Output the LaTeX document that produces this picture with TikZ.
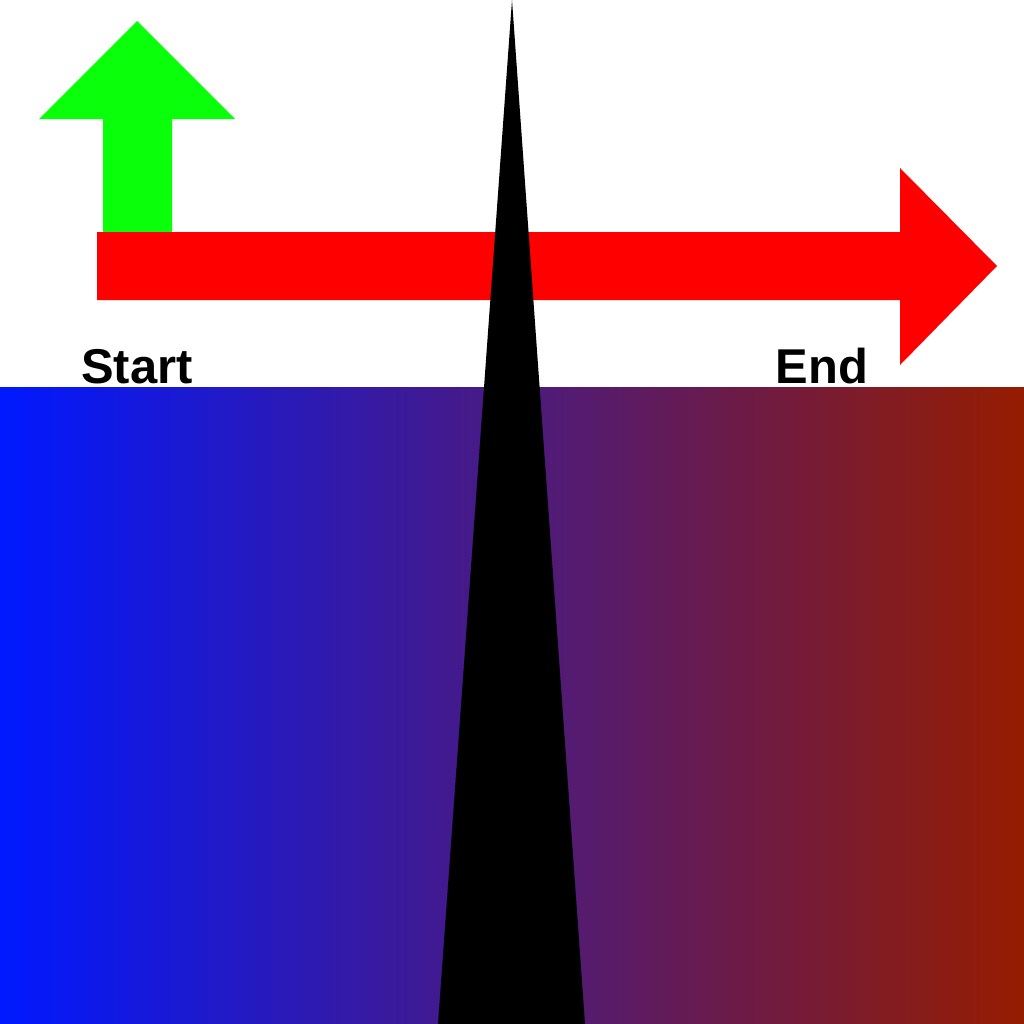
\documentclass[tikz,border=0pt]{standalone}
\usepackage{fontspec}
\setmainfont{Liberation Sans}
\usepackage{xcolor}
\definecolor{panelblue}{RGB}{0,25,255}
\definecolor{panelrust}{RGB}{150,28,0}
\definecolor{upgreen}{RGB}{10,255,10}
\definecolor{flowred}{RGB}{255,0,0}
\tikzset{
  arrowfill/.style={draw=none},
  endlabel/.style={font=\fontsize{13.9}{16}\selectfont\bfseries, inner sep=0pt, anchor=base}
}

\begin{document}
\begin{tikzpicture}[x=0.01cm, y=-0.01cm]

% Canvas
\fill[white] (0,0) rectangle (1024,1024);
\useasboundingbox (0,0) rectangle (1024,1024);

% Gradient panel
\fill[left color=panelblue, right color=panelrust] (0,387) rectangle (1024,1024);

% Green arrow (up)
\fill[upgreen, arrowfill] (103,232) -- (103,119) -- (39,119) -- (137,21)
  -- (235,119) -- (172,119) -- (172,232) -- cycle;

% Red arrow (right)
\fill[flowred, arrowfill] (97,232) -- (900,232) -- (900,168) -- (997,266)
  -- (900,365) -- (900,300) -- (97,300) -- cycle;

% Labels
\node[endlabel] (start) at (137,383) {Start};
\node[endlabel] (end) at (822,383) {End};

% Spike
\fill[black] (512,0) -- (585,1024) -- (438,1024) -- cycle;

\end{tikzpicture}
\end{document}
